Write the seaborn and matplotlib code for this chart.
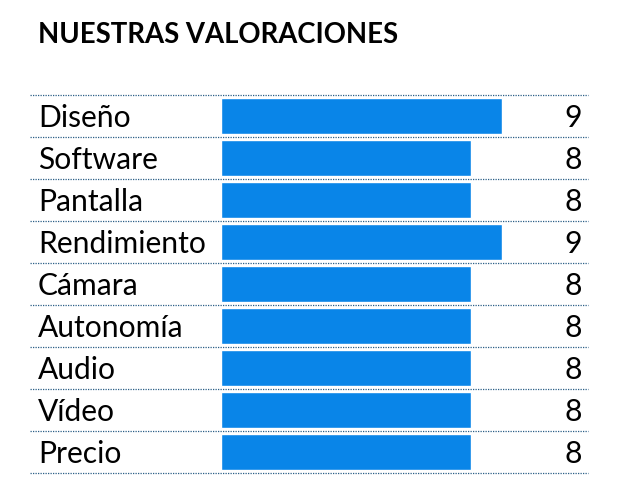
import pandas as pd
import matplotlib
matplotlib.use("Agg")
import matplotlib.pyplot as plt
import seaborn as sns

sns.set_theme(style="white")
plt.rcParams['font.family'] = ['Lato', 'DejaVu Sans']

# Data
categories = ["Diseño", "Software", "Pantalla", "Rendimiento", "Cámara",
              "Autonomía", "Audio", "Vídeo", "Precio"]
scores = [9, 8, 8, 9, 8, 8, 8, 8, 8]

df = pd.DataFrame({"categoria": categories, "nota": scores})

BAR_COLOR = "#0985E8"
LINE_COLOR = "#2A5F86"

fig = plt.figure(figsize=(6.26, 4.94), dpi=100)
W, H = 626, 494
# axes spans the dotted row lines: x 30..588 px, y 95..473 px
ax = fig.add_axes([30 / W, (H - 473) / H, 558 / W, 378 / H])

sns.barplot(data=df, y="categoria", x="nota", color=BAR_COLOR, orient="h",
            width=0.88, saturation=1, ax=ax)

# zero of the scale sits at x=221 px, 31.2 px per point
px_per_unit = 31.2
ax.set_xlim(-(221 - 30) / px_per_unit, (588 - 221) / px_per_unit)
ax.set_ylim(len(categories) - 0.5, -0.5)

for i, (cat, val) in enumerate(zip(categories, scores)):
    ax.text(-(221 - 38) / px_per_unit, i + 0.05, cat, ha="left", va="center",
            fontsize=21.6, color="black")
    ax.text((582 - 221) / px_per_unit, i + 0.05, str(val), ha="right", va="center",
            fontsize=21.6, color="black")

# dotted separators between rows
for y in [k - 0.5 for k in range(len(categories) + 1)]:
    ax.axhline(y, color=LINE_COLOR, linestyle=(0, (1, 1)), linewidth=0.9,
               clip_on=False)

ax.set_xlabel("")
ax.set_ylabel("")
ax.set_xticks([])
ax.set_yticks([])
sns.despine(ax=ax, left=True, bottom=True)

fig.text(38 / W, 1 - 43 / H, "NUESTRAS VALORACIONES", fontsize=19.8,
         fontweight="bold", ha="left", va="baseline", color="black")

fig.savefig("out.png", dpi=100, facecolor="white")
